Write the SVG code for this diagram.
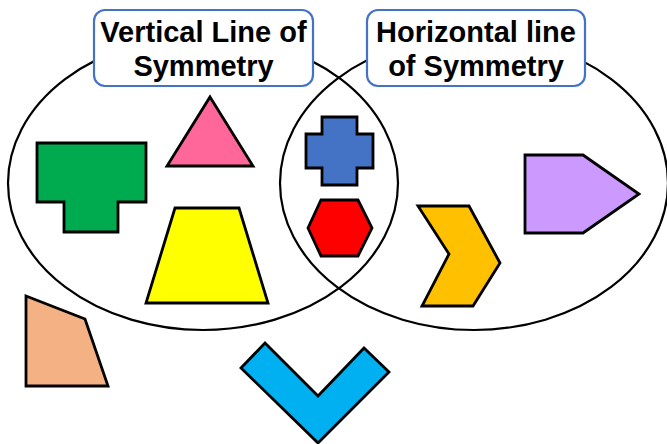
<svg xmlns="http://www.w3.org/2000/svg" width="667" height="444" viewBox="0 0 667 444">
<style>
.ring{fill:none;stroke:#000;stroke-width:2.2}
.shape{stroke:#000;stroke-width:2.8;stroke-linejoin:miter}
.label rect{fill:#fff;stroke:#4472C4;stroke-width:2.2}
.label text{font-family:"Liberation Sans",Arial,sans-serif;font-weight:bold;font-size:29px;fill:#000;text-anchor:middle}
</style>
<rect width="667" height="444" fill="#fff"/>
<g id="sets">
<ellipse class="ring" cx="203" cy="183" rx="195" ry="147"/>
<ellipse class="ring" cx="474" cy="183" rx="194" ry="147"/>
</g>
<g id="label-vertical" class="label">
<rect x="94" y="10" width="219" height="76" rx="11"/>
<text x="203.5" y="42">Vertical Line of</text>
<text x="203.5" y="76">Symmetry</text>
</g>
<g id="label-horizontal" class="label">
<rect x="367" y="10" width="218" height="76" rx="11"/>
<text x="476" y="42">Horizontal line</text>
<text x="476" y="76">of Symmetry</text>
</g>
<g id="green-t"><polygon class="shape" fill="#00AA4F" points="37,143 146,143 146,202 118,202 118,232 64,232 64,202 37,202"/></g>
<g id="pink-triangle"><polygon class="shape" fill="#FF6699" points="210,97 253,166 167,166"/></g>
<g id="yellow-trapezoid"><polygon class="shape" fill="#FFFF00" points="175,208 239,208 268,303 146,303"/></g>
<g id="blue-cross"><polygon class="shape" fill="#4472C4" points="322,117 357,117 357,134 373,134 373,168 357,168 357,185 322,185 322,168 306,168 306,134 322,134"/></g>
<g id="red-hexagon"><polygon class="shape" fill="#FF0000" points="308,228 321,200 358,200 372,228 358,256 321,256"/></g>
<g id="orange-chevron"><polygon class="shape" fill="#FFC000" points="418,206 469,206 500,263 473,306 422,306 449,254"/></g>
<g id="purple-pentagon"><polygon class="shape" fill="#CC99FF" points="525,155 583,155 639,194 583,233 525,233"/></g>
<g id="peach-quad"><polygon class="shape" fill="#F4B183" points="26,296 85,319 108,386 26,386"/></g>
<g id="blue-v"><polygon class="shape" fill="#00B0F0" points="241,368 265,343 318,396 364,348 389,372 318,443"/></g>
</svg>
